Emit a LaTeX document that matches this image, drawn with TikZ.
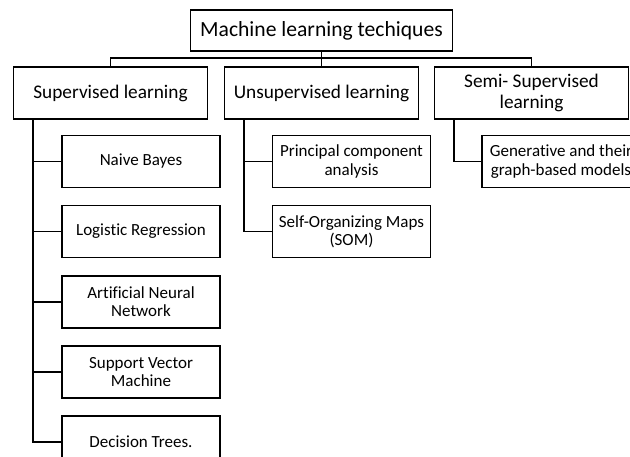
\documentclass[tikz,border=0pt]{standalone}
\usepackage{fontspec}
\setmainfont{Carlito}[Ligatures=NoCommon]
\usetikzlibrary{positioning}

\begin{document}
\begin{tikzpicture}[x=1pt,y=1pt,line width=1.6pt,node distance=16.5pt,
  root node/.style={draw,minimum width=262pt,minimum height=41pt,font=\fontsize{21.6}{25}\selectfont},
  main node/.style={draw,minimum width=194pt,minimum height=52pt,align=center,font=\fontsize{19.3}{21}\selectfont},
  leaf node/.style={draw,minimum width=158pt,minimum height=52pt,align=center,inner sep=2pt,font=\fontsize{17}{18.5}\selectfont}]
   \path[use as bounding box,clip] (0,0) rectangle (630,-456);
   \node[root node] (M)   at (321.5,-30.5) {Machine learning techiques};
   \node[main node] (S)   at (110.5,-93)   {Supervised learning};
   \node[main node] (U)   at (321.5,-93)   {Unsupervised learning};
   \node[main node] (SS)  at (531.5,-93)   {Semi- Supervised\\learning};
   % supervised
   \node[leaf node] (nb)  at (141,-161.5)  {Naive Bayes};
   \node[leaf node] (lr)  [below=of nb]    {Logistic Regression};
   \node[leaf node] (ann) [below=of lr]    {Artificial Neural\\Network};
   \node[leaf node] (svm) [below=of ann]   {Support Vector\\Machine};
   \node[leaf node] (dt)  [below=of svm]   {Decision Trees.};
   % unsupervised
   \node[leaf node] (pca) at (351.5,-161.5) {Principal component\\analysis};
   \node[leaf node] (som) [below=of pca]    {Self-Organizing Maps\\(SOM)};
   % semi-supervised
   \node[leaf node] (gen) at (561,-161.5)   {Generative and their\\graph-based models};
   \draw (M.south) -- (U.north);
   \draw (S.north) -- ++(0,8) -| (SS.north);
   \draw ([xshift=20pt]S.south west) |- (nb.west);
   \draw ([xshift=20pt]S.south west) |- (lr.west);
   \draw ([xshift=20pt]S.south west) |- (ann.west);
   \draw ([xshift=20pt]S.south west) |- (svm.west);
   \draw ([xshift=20pt]S.south west) |- (dt.west);
   \draw ([xshift=20pt]U.south west) |- (pca.west);
   \draw ([xshift=20pt]U.south west) |- (som.west);
   \draw ([xshift=20pt]SS.south west) |- (gen.west);
\end{tikzpicture}
\end{document}
